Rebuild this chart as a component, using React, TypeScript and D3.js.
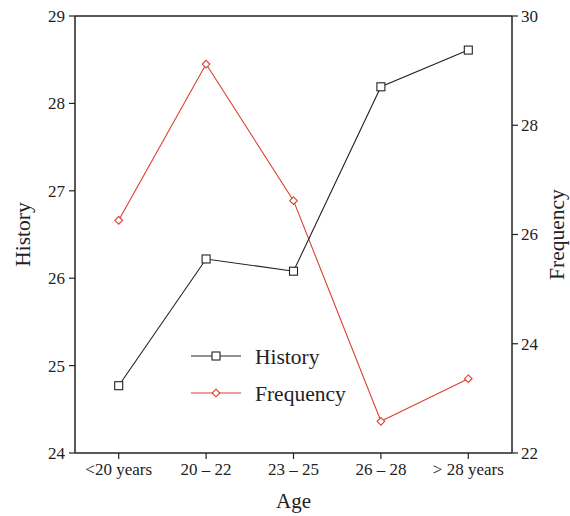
import * as d3 from 'd3';

const categories = ['<20 years', '20 – 22', '23 – 25', '26 – 28', '> 28 years'];
const history = [24.77, 26.22, 26.08, 28.19, 28.61];
const frequency = [26.26, 29.12, 26.62, 22.58, 23.36];
const historyTicks = [24, 25, 26, 27, 28, 29];
const frequencyTicks = [22, 24, 26, 28, 30];

const W = 570;
const H = 516;
const m = { top: 16, right: 58, bottom: 63, left: 75 };
const font = '"Liberation Serif", "DejaVu Serif", serif';
const red = '#d9402e';

export default function App() {
  const iw = W - m.left - m.right;
  const ih = H - m.top - m.bottom;

  const x = d3.scalePoint<string>().domain(categories).range([0, iw]).padding(0.5);
  const yL = d3.scaleLinear().domain([24, 29]).range([ih, 0]);
  const yR = d3.scaleLinear().domain([22, 30]).range([ih, 0]);

  const lineL = d3.line<number>().x((_, i) => x(categories[i])!).y(d => yL(d));
  const lineR = d3.line<number>().x((_, i) => x(categories[i])!).y(d => yR(d));

  const diamond = (cx: number, cy: number, r: number) =>
    `M${cx},${cy - r}L${cx + r},${cy}L${cx},${cy + r}L${cx - r},${cy}Z`;

  return (
    <svg width={W} height={H} style={{ position: 'absolute', left: 0, top: 0, background: '#fff' }} fontFamily={font}>
      <g transform={`translate(${m.left},${m.top})`}>
        {/* frame */}
        <line x1={0} x2={iw} y1={0} y2={0} stroke="#222" strokeWidth={1.3} />
        <line x1={0} x2={iw} y1={ih} y2={ih} stroke="#222" strokeWidth={1.5} />
        <line x1={0} x2={0} y1={0} y2={ih} stroke="#222" strokeWidth={1.5} />
        <line x1={iw} x2={iw} y1={0} y2={ih} stroke="#222" strokeWidth={1.5} />

        {/* left axis */}
        {historyTicks.map(t => (
          <g key={'l' + t} transform={`translate(0,${yL(t)})`}>
            <line x1={-6} x2={0} stroke="#222" strokeWidth={1.2} />
            <text x={-10} dy="0.35em" textAnchor="end" fontSize={17} fill="#222">{t}</text>
          </g>
        ))}

        {/* right axis */}
        {frequencyTicks.map(t => (
          <g key={'r' + t} transform={`translate(${iw},${yR(t)})`}>
            <line x1={0} x2={6} stroke="#222" strokeWidth={1.2} />
            <text x={9} dy="0.35em" textAnchor="start" fontSize={17} fill="#222">{t}</text>
          </g>
        ))}

        {/* bottom axis */}
        {categories.map(c => (
          <g key={c} transform={`translate(${x(c)},${ih})`}>
            <line y1={0} y2={6} stroke="#222" strokeWidth={1.2} />
            <text y={22} textAnchor="middle" fontSize={17} fill="#222">{c}</text>
          </g>
        ))}

        {/* series */}
        <path d={lineR(frequency)!} fill="none" stroke={red} strokeWidth={1.1} />
        <path d={lineL(history)!} fill="none" stroke="#222" strokeWidth={1.1} />
        {frequency.map((v, i) => (
          <path key={'f' + i} d={diamond(x(categories[i])!, yR(v), 3.8)} fill="#fff" stroke={red} strokeWidth={1.1} />
        ))}
        {history.map((v, i) => (
          <rect key={'h' + i} x={x(categories[i])! - 4} y={yL(v) - 4} width={8} height={8} fill="#fff" stroke="#222" strokeWidth={1.1} />
        ))}

        {/* legend */}
        <g transform="translate(116,340)">
          <line x1={0} x2={50} stroke="#222" strokeWidth={1.1} />
          <rect x={21} y={-4} width={8} height={8} fill="#fff" stroke="#222" strokeWidth={1.1} />
          <text x={64} dy="0.35em" fontSize={21.5} fill="#222">History</text>
        </g>
        <g transform="translate(116,377)">
          <line x1={0} x2={50} stroke={red} strokeWidth={1.1} />
          <path d={diamond(25, 0, 3.8)} fill="#fff" stroke={red} strokeWidth={1.1} />
          <text x={64} dy="0.35em" fontSize={21.5} fill="#222">Frequency</text>
        </g>
      </g>

      {/* axis titles */}
      <text x={m.left + iw / 2} y={508} textAnchor="middle" fontSize={21} fill="#222">Age</text>
      <text transform={`translate(30,${m.top + ih / 2}) rotate(-90)`} textAnchor="middle" fontSize={21.5} fill="#222">History</text>
      <text transform={`translate(564,${m.top + ih / 2}) rotate(-90)`} textAnchor="middle" fontSize={21.5} fill="#222">Frequency</text>
    </svg>
  );
}
